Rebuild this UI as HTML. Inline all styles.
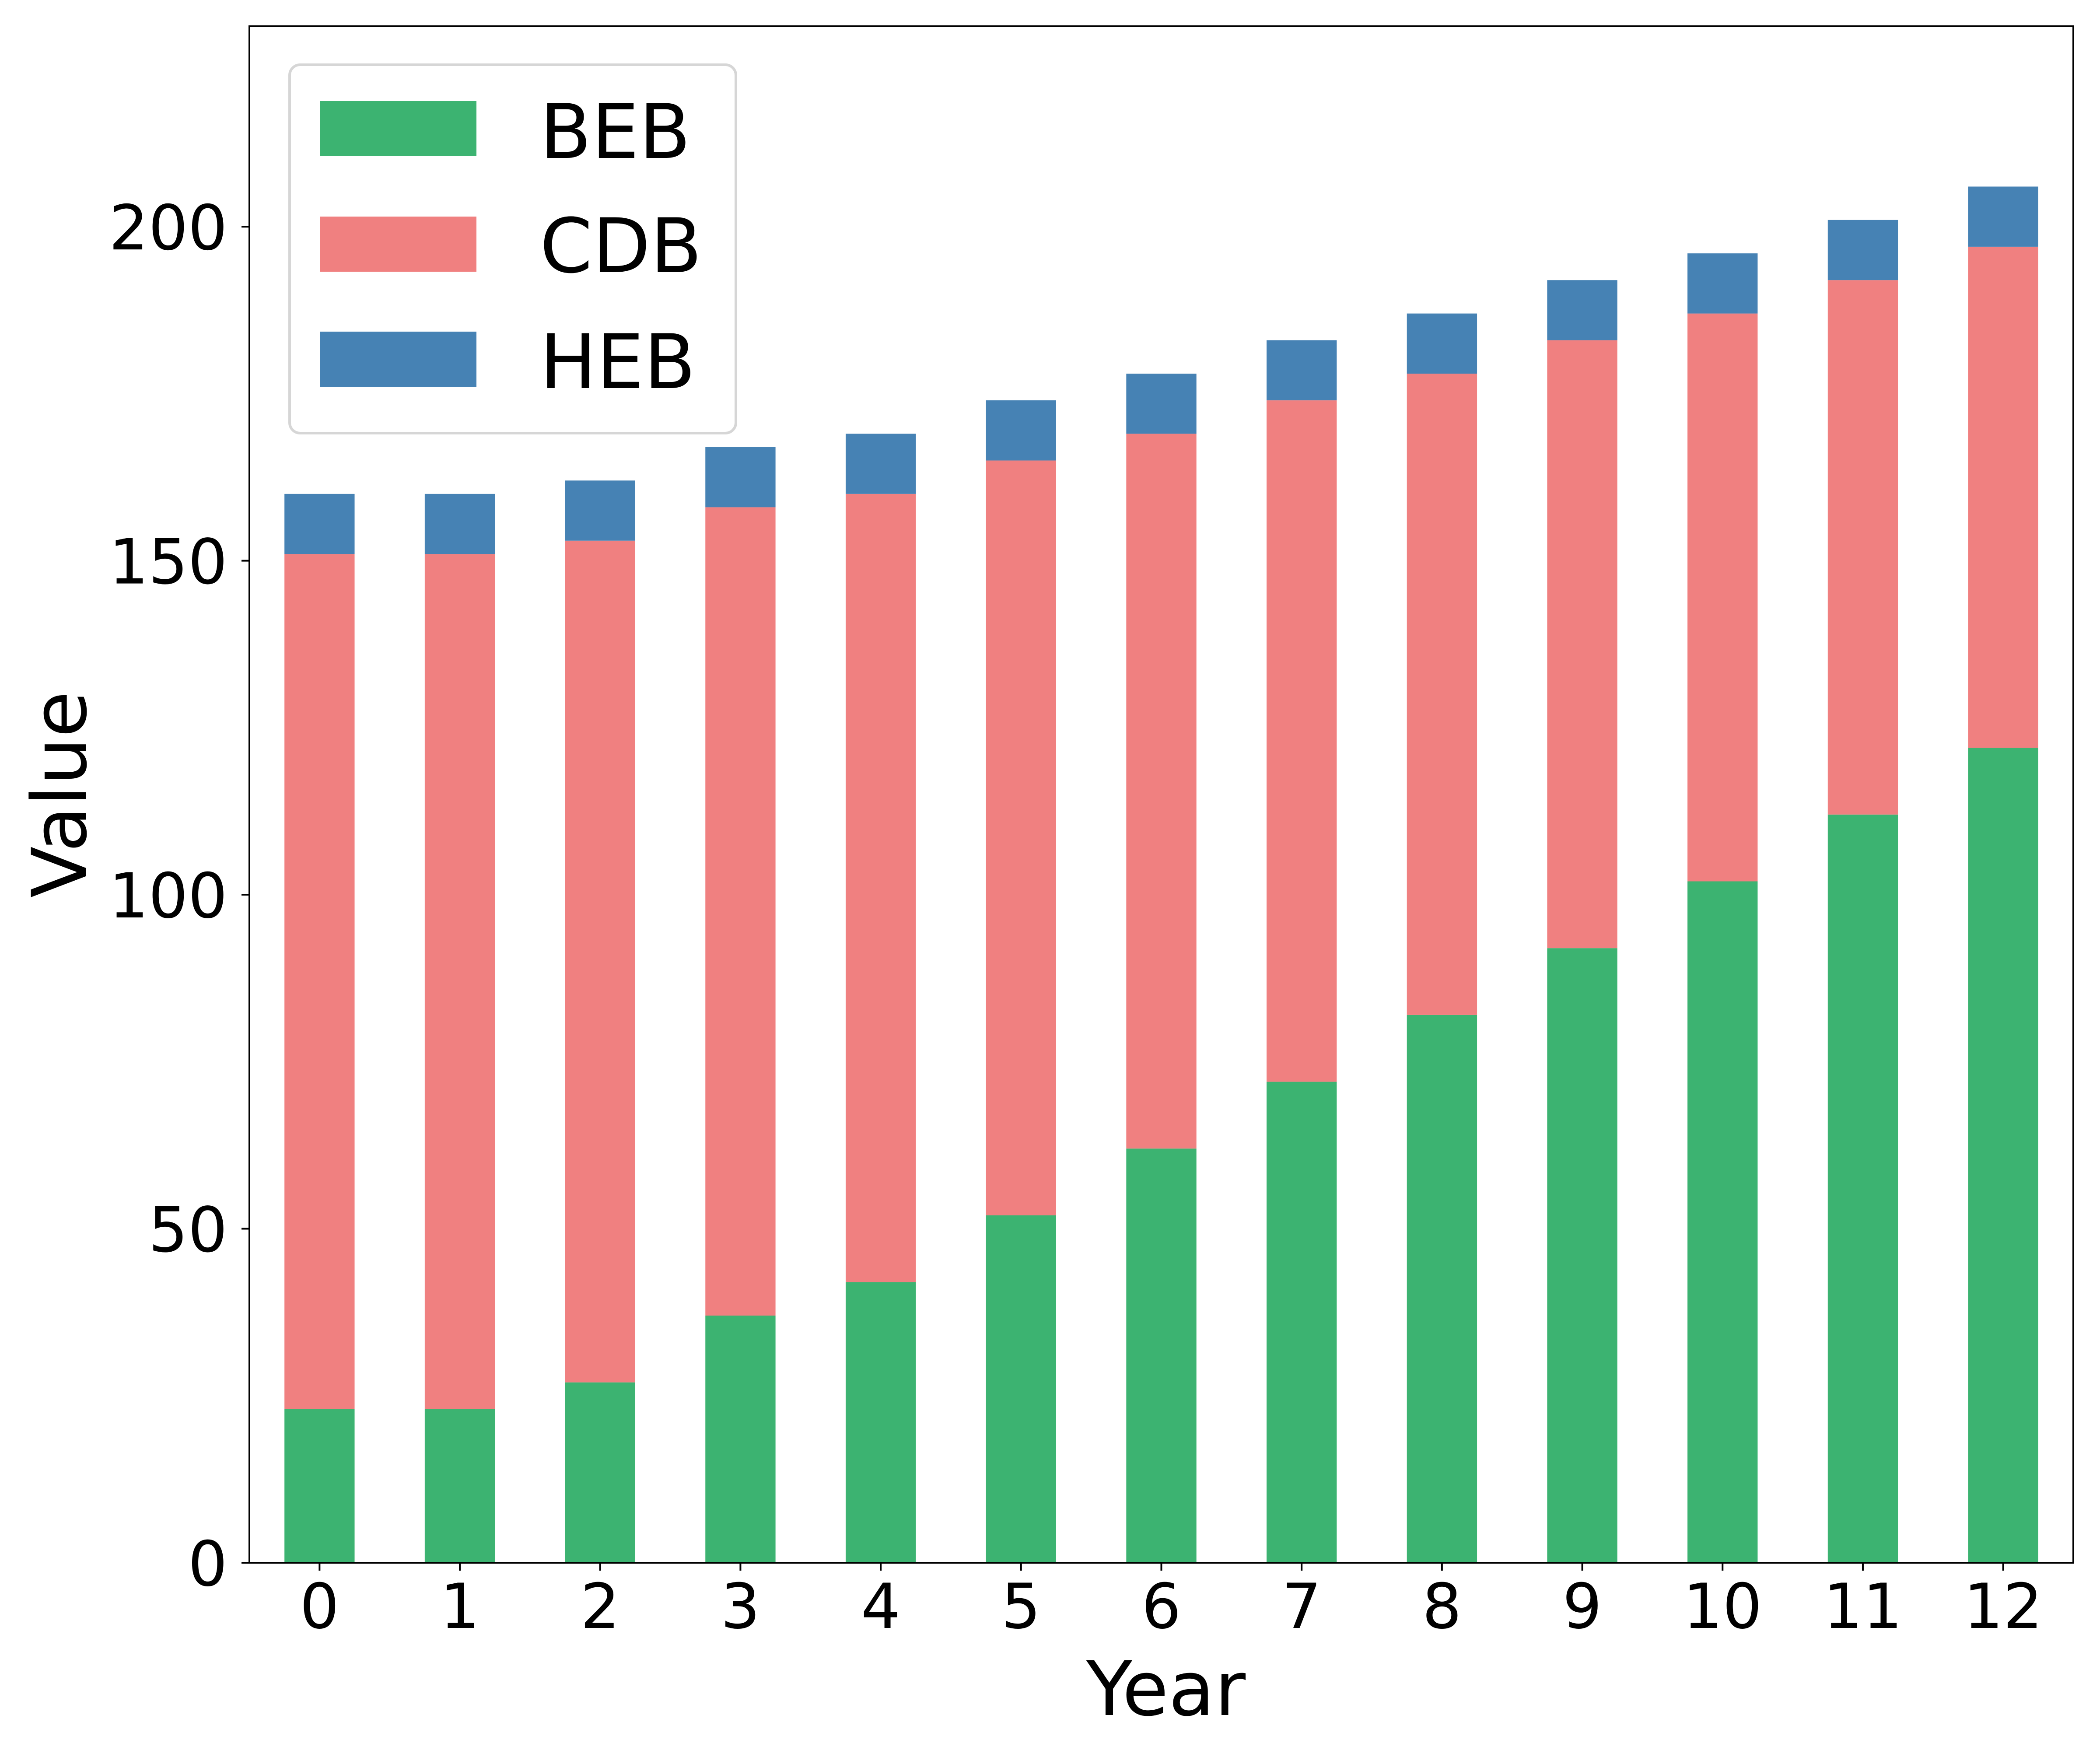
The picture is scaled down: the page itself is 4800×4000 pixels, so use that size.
<!DOCTYPE html>
<html><head><meta charset="utf-8"><style>
html,body{margin:0;padding:0;background:#fff;}
svg{display:block;font-family:"DejaVu Sans","Liberation Sans",sans-serif;}
</style></head><body>
<svg id="chart" width="4800" height="4000" viewBox="0 0 4800 4000" xmlns="http://www.w3.org/2000/svg">
<rect x="0" y="0" width="4800" height="4000" fill="#fff"/>
<g id="bars"></g>
<g id="axes"></g>
<text x="2665" y="3920" font-size="172" text-anchor="middle">Year</text>
<text transform="translate(196,1816) rotate(-90)" font-size="172" text-anchor="middle">Value</text>
<g>
<rect x="662" y="148" width="1020" height="842" rx="24" fill="#fff" stroke="#d6d6d6" stroke-width="6"/>
<rect x="732" y="231" width="357" height="126" fill="#3cb371"/>
<text x="1234" y="361" font-size="172">BEB</text>
<rect x="732" y="495" width="357" height="126" fill="#f08080"/>
<text x="1234" y="622" font-size="172">CDB</text>
<rect x="732" y="758" width="357" height="126" fill="#4682b4"/>
<text x="1234" y="887" font-size="172">HEB</text>
</g>
</svg>
<script>
const years = [0,1,2,3,4,5,6,7,8,9,10,11,12];
const beb = [23,23,27,37,42,52,62,72,82,92,102,112,122];
const cdb = [128,128,126,121,118,113,107,102,96,91,85,80,75];
const heb = [9,9,9,9,9,9,9,9,9,9,9,9,9];
const yTicks = [0,50,100,150,200];

const L=570,R=4739,T=60,B=3572,YMAX=230;
const NS='http://www.w3.org/2000/svg';
function xs(i){return L+(i+0.5)*(R-L)/years.length;}
function ys(v){return B-v*(B-T)/YMAX;}
const bw=0.5*(R-L)/years.length;
const gb=document.getElementById('bars');
const ga=document.getElementById('axes');
function mk(tag,attrs,parent){const e=document.createElementNS(NS,tag);for(const k in attrs)e.setAttribute(k,attrs[k]);parent.appendChild(e);return e;}
const series=[[beb,'#3cb371','beb'],[cdb,'#f08080','cdb'],[heb,'#4682b4','heb']];
years.forEach((yr,i)=>{
  let base=0;
  series.forEach(([arr,col,nm])=>{
    const v=arr[i];
    const r=mk('rect',{x:xs(i)-bw/2,y:ys(base+v),width:bw,height:ys(base)-ys(base+v),fill:col},gb);
    
    
    base+=v;
  });
  const t=mk('line',{x1:xs(i),x2:xs(i),y1:B,y2:B+18,stroke:'#000','stroke-width':4},ga);
  
  
  const lb=mk('text',{x:xs(i),y:3721,'font-size':142,'text-anchor':'middle'},ga);
  lb.textContent=yr;
  
  
});
yTicks.forEach(v=>{
  const t=mk('line',{x1:L-18,x2:L,y1:ys(v),y2:ys(v),stroke:'#000','stroke-width':4},ga);
  
  
  const lb=mk('text',{x:520,y:ys(v)+52,'font-size':142,'text-anchor':'end'},ga);
  lb.textContent=v;
  
  
});
const fr=mk('rect',{x:L,y:T,width:R-L,height:B-T,fill:'none',stroke:'#000','stroke-width':4},ga);


</script>
</body></html>
